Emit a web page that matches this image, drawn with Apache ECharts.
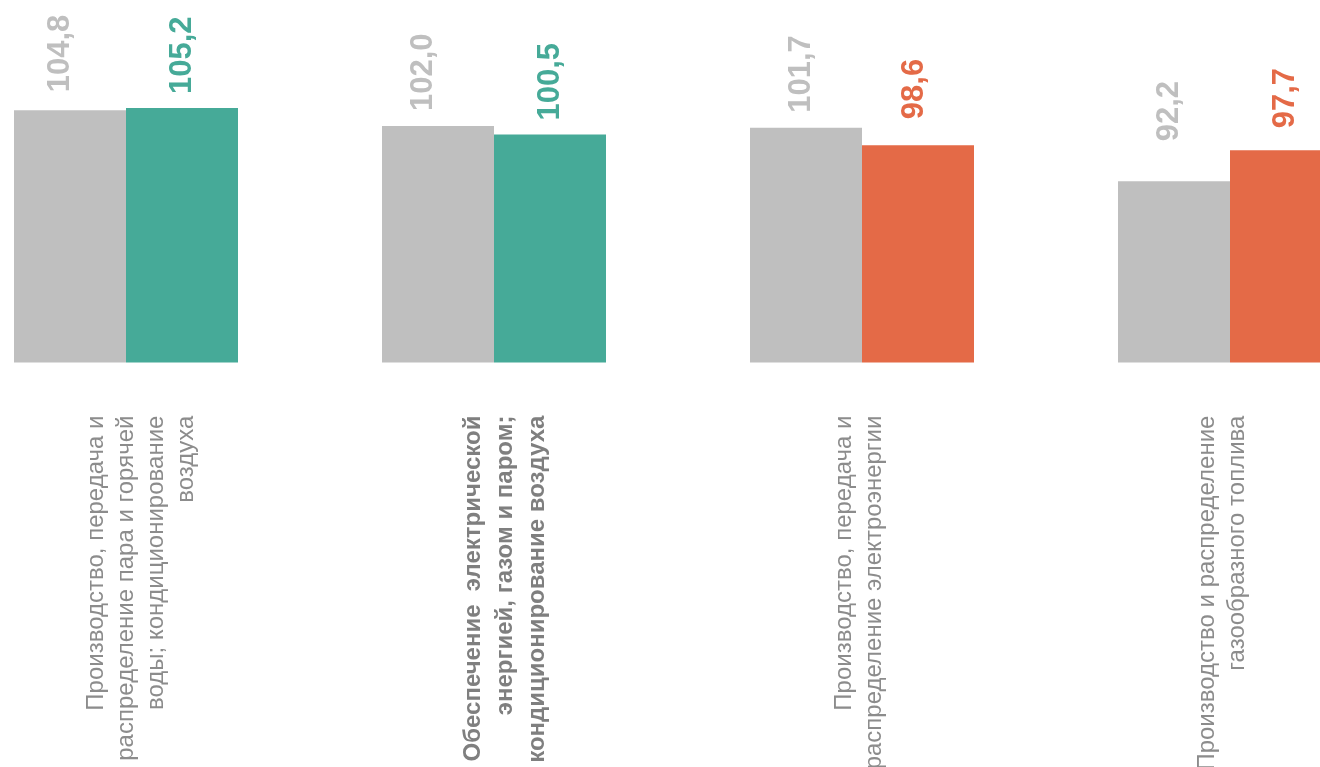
<!DOCTYPE html>
<html>
<head>
<meta charset="utf-8">
<script src="https://cdn.jsdelivr.net/npm/echarts@6/dist/echarts.min.js"></script>
<style>
html,body{margin:0;padding:0;background:#fff;}
#chart{width:1320px;height:767px;}
</style>
</head>
<body>
<div id="chart"></div>
<script>
// ---- data ----
const categories = [
  'Производство, передача и\nраспределение пара и горячей\nводы; кондиционирование\nвоздуха',
  'Обеспечение  электрической\nэнергией, газом и паром;\nкондиционирование воздуха',
  'Производство, передача и\nраспределение электроэнергии',
  'Производство и распределение\nгазообразного топлива'
];
const prevValues = [104.8, 102.0, 101.7, 92.2];
const currValues = [105.2, 100.5, 98.6, 97.7];
const boldCategory = [false, true, false, false];

// ---- styles (kept separate from data) ----
const catShift = [15, 11, -3, -8];         // horizontal nudge of category label blocks
const prevLabelGap = [18, 15, 15, 40];
const currLabelGap = [14, 14, 26, 22];
const prevLabelNudge = [-10, -15, -5, -5];
const currLabelNudge = [0, 0, -4, -1];

const GRAY = '#BFBFBF', GREEN = '#46AA98', RED = '#E46A47';
const FONT = '"Liberation Sans", Arial, sans-serif';
const fmt = v => v.toFixed(1).replace('.', ',');

const axisData = categories.map((c, i) => ({
  value: c,
  textStyle: {
    fontWeight: boldCategory[i] ? 'bold' : 'normal',
    color: boldCategory[i] ? '#7F7F7F' : '#8C8C8C',
    lineHeight: boldCategory[i] ? 32 : 30
  }
}));

const padRich = {};
catShift.forEach((s, i) => {
  padRich['p' + i] = { lineHeight: Math.max(1, 2 * Math.abs(s)), fontSize: 1 };
});

function seriesData(values, gaps, nudges, colorFn) {
  return values.map((v, i) => ({
    value: v,
    itemStyle: { color: colorFn(v) },
    label: {
      distance: gaps[i],
      offset: [0, nudges[i]],
      color: colorFn(v)
    }
  }));
}

const labelBase = {
  show: true,
  position: 'top',
  rotate: 90,
  align: 'left',
  verticalAlign: 'middle',
  fontFamily: FONT,
  fontSize: 31,
  fontWeight: 'bold',
  formatter: p => fmt(p.value)
};

const chart = echarts.init(document.getElementById('chart'));
chart.setOption({
  animation: false,
  backgroundColor: '#fff',
  grid: { left: -58, top: 81, width: 1472, height: 281.6, containLabel: false, outerBoundsMode: 'none' },
  xAxis: {
    type: 'category',
    data: axisData,
    axisLine: { show: false },
    axisTick: { show: false },
    axisLabel: {
      interval: 0,
      rotate: 90,
      margin: 53,
      fontFamily: FONT,
      fontSize: 24,
      color: '#8C8C8C',
      rich: padRich,
      formatter: (value, idx) => {
        const s = catShift[idx];
        return s >= 0 ? '{p' + idx + '| }\n' + value : value + '\n{p' + idx + '| }';
      }
    }
  },
  yAxis: {
    type: 'value',
    min: 60,
    max: 110,
    show: false,
    splitLine: { show: false }
  },
  series: [
    {
      type: 'bar',
      barWidth: 112,
      barGap: '0%',
      data: seriesData(prevValues, prevLabelGap, prevLabelNudge, () => GRAY),
      label: labelBase
    },
    {
      type: 'bar',
      barWidth: 112,
      barGap: '0%',
      data: seriesData(currValues, currLabelGap, currLabelNudge, v => v >= 100 ? GREEN : RED),
      label: labelBase
    }
  ]
});
</script>
</body>
</html>
